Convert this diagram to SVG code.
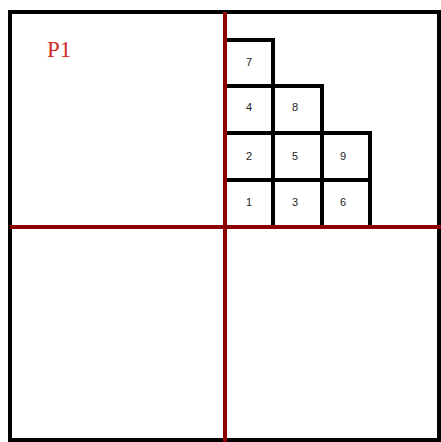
<svg xmlns="http://www.w3.org/2000/svg" width="441" height="442" viewBox="0 0 441 442">
<style>
.frame{fill:none;stroke:#000;stroke-width:4}
.axis{stroke:#8b0000;stroke-width:4;fill:none}
.grid{stroke:#000;stroke-width:4;fill:none;stroke-linecap:square}
.num{font-family:"Liberation Sans",Arial,sans-serif;font-size:11px;fill:#222;text-anchor:middle}
.lbl{font-family:"Liberation Serif","Times New Roman",serif;font-size:23px;fill:#d02c2c}
</style>
<rect width="441" height="442" fill="#fff"/>
<g id="frame">
<rect class="frame" x="10" y="12" width="429" height="428"/>
</g>
<g id="connectors">
<line class="grid" x1="225" y1="40" x2="273" y2="40"/>
<line class="grid" x1="273" y1="40" x2="273" y2="227"/>
<line class="grid" x1="225" y1="86" x2="322" y2="86"/>
<line class="grid" x1="322" y1="86" x2="322" y2="227"/>
<line class="grid" x1="225" y1="133" x2="370" y2="133"/>
<line class="grid" x1="370" y1="133" x2="370" y2="227"/>
<line class="grid" x1="225" y1="180" x2="370" y2="180"/>
<line class="axis" x1="225" y1="12" x2="225" y2="442"/>
<line class="axis" x1="10" y1="227" x2="441" y2="227"/>
</g>
<g id="label-P1"><text class="lbl" x="47" y="57">P1</text></g>
<g id="cell-7"><text class="num" x="249" y="66">7</text></g>
<g id="cell-4"><text class="num" x="249" y="111">4</text></g>
<g id="cell-8"><text class="num" x="295" y="111">8</text></g>
<g id="cell-2"><text class="num" x="249" y="160">2</text></g>
<g id="cell-5"><text class="num" x="295" y="160">5</text></g>
<g id="cell-9"><text class="num" x="343" y="160">9</text></g>
<g id="cell-1"><text class="num" x="249" y="206">1</text></g>
<g id="cell-3"><text class="num" x="295" y="206">3</text></g>
<g id="cell-6"><text class="num" x="343" y="206">6</text></g>
</svg>
